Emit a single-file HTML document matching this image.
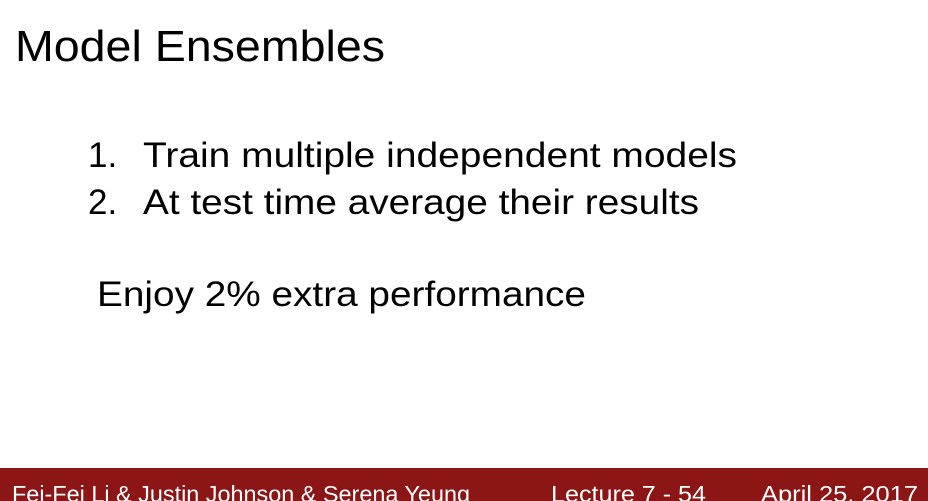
<!DOCTYPE html>
<html><head><meta charset="utf-8"><style>
html,body{margin:0;padding:0;background:#fff;}
svg{display:block;font-family:"Liberation Sans",Arial,sans-serif;}
</style></head><body>
<svg width="928" height="501" viewBox="0 0 928 501">
<rect x="0" y="0" width="928" height="501" fill="#fff"/>
<text x="15" y="61" font-size="44" fill="#000" textLength="370" lengthAdjust="spacingAndGlyphs">Model Ensembles</text>
<text x="88" y="167" font-size="35" fill="#000">1.</text>
<text x="143" y="167" font-size="35" fill="#000" textLength="594" lengthAdjust="spacingAndGlyphs">Train multiple independent models</text>
<text x="88" y="214" font-size="35" fill="#000">2.</text>
<text x="143" y="214" font-size="35" fill="#000" textLength="556" lengthAdjust="spacingAndGlyphs">At test time average their results</text>
<text x="97" y="306" font-size="35" fill="#000" textLength="489" lengthAdjust="spacingAndGlyphs">Enjoy 2% extra performance</text>
<rect x="0" y="468" width="928" height="33" fill="#8c1515"/>
<text x="12" y="502" font-size="23" fill="#fff" textLength="458" lengthAdjust="spacingAndGlyphs">Fei-Fei Li &amp; Justin Johnson &amp; Serena Yeung</text>
<text x="551" y="502" font-size="23" fill="#fff" textLength="155" lengthAdjust="spacingAndGlyphs">Lecture 7 - 54</text>
<text x="761" y="502" font-size="23" fill="#fff" textLength="157" lengthAdjust="spacingAndGlyphs">April 25, 2017</text>
</svg>
</body></html>
